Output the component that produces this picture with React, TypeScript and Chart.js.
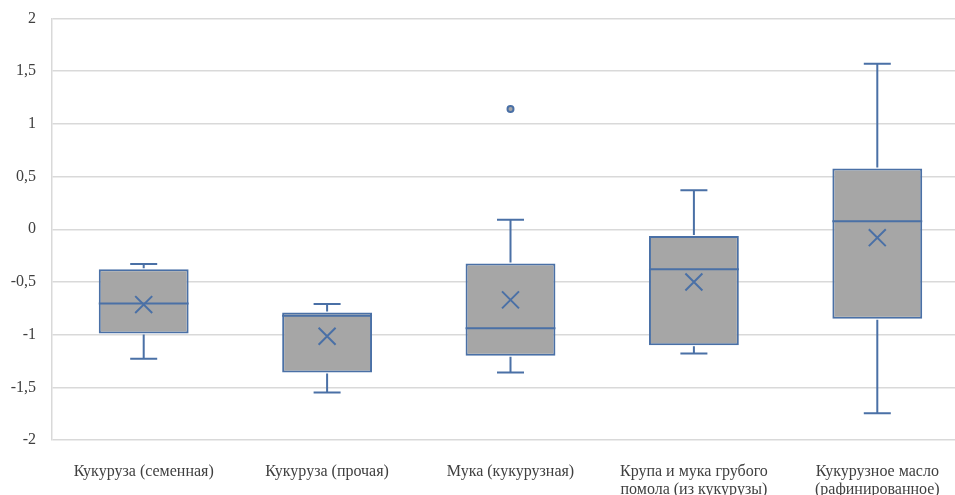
import React, { useEffect, useRef } from "react";
import { Chart, registerables } from "chart.js";

Chart.register(...registerables);

const categories: (string | string[])[] = [
  "Кукуруза (семенная)",
  "Кукуруза (прочая)",
  "Мука (кукурузная)",
  ["Крупа и мука грубого", "помола (из кукурузы)"],
  ["Кукурузное масло", "(рафинированное)"],
];
const whiskerMin = [-1.23, -1.55, -1.36, -1.18, -1.745];
const q1 = [-0.99, -1.36, -1.2, -1.1, -0.85];
const median = [-0.705, -0.82, -0.94, -0.38, 0.076];
const q3 = [-0.38, -0.79, -0.325, -0.064, 0.576];
const whiskerMax = [-0.33, -0.71, 0.09, 0.37, 1.57];
const mean = [-0.715, -1.015, -0.67, -0.5, -0.08];
const outliers: (number | null)[] = [null, null, 1.14, null, null];

const BLUE = "#4a70a6";
const GRAY = "#a6a6a6";
const TEXT = "#404040";
const GRID = "#d9d9d9";

const boxPlugin = {
  id: "boxWhiskers",
  afterDatasetsDraw(chart: any) {
    const ctx = chart.ctx;
    const xs = chart.scales.x;
    const ys = chart.scales.y;
    const meta = chart.getDatasetMeta(0);
    ctx.save();
    ctx.strokeStyle = BLUE;
    ctx.lineWidth = 2;
    const capHalf = 13.5;
    for (let i = 0; i < categories.length; i++) {
      const x = xs.getPixelForValue(i);
      const el = meta.data[i];
      const half = el.width / 2;
      const yMax = ys.getPixelForValue(whiskerMax[i]);
      const yQ3 = ys.getPixelForValue(q3[i]);
      const yQ1 = ys.getPixelForValue(q1[i]);
      const yMin = ys.getPixelForValue(whiskerMin[i]);
      const yMed = ys.getPixelForValue(median[i]);
      ctx.beginPath();
      ctx.moveTo(x, yQ3 - 1);
      ctx.lineTo(x, yMax);
      ctx.moveTo(x - capHalf, yMax);
      ctx.lineTo(x + capHalf, yMax);
      ctx.moveTo(x, yQ1 + 1);
      ctx.lineTo(x, yMin);
      ctx.moveTo(x - capHalf, yMin);
      ctx.lineTo(x + capHalf, yMin);
      ctx.moveTo(x - half, yMed);
      ctx.lineTo(x + half, yMed);
      ctx.stroke();
    }
    ctx.restore();
  },
};

export default function App() {
  const ref = useRef<HTMLCanvasElement | null>(null);
  useEffect(() => {
    if (!ref.current) return;
    const chart = new Chart(ref.current, {
      type: "bar",
      data: {
        labels: categories as any,
        datasets: [
          {
            type: "bar",
            data: q1.map((v, i) => [v, q3[i]]) as any,
            backgroundColor: GRAY,
            borderColor: BLUE,
            borderWidth: 2,
            borderSkipped: false,
            categoryPercentage: 1,
            barPercentage: 0.49,
            order: 2,
          } as any,
          {
            type: "line",
            data: mean,
            showLine: false,
            pointStyle: "crossRot",
            pointRadius: 12,
            pointBorderColor: BLUE,
            pointBorderWidth: 2,
            order: 1,
          } as any,
          {
            type: "line",
            data: outliers,
            showLine: false,
            pointStyle: "circle",
            pointRadius: 3,
            pointBackgroundColor: GRAY,
            pointBorderColor: BLUE,
            pointBorderWidth: 2,
            order: 0,
          } as any,
        ],
      },
      options: {
        responsive: false,
        animation: false,
        layout: { padding: { top: 18.5, left: 0, right: 0, bottom: 0 } },
        plugins: { legend: { display: false }, tooltip: { enabled: false } },
        scales: {
          x: {
            grid: { display: false },
            border: { display: false },
            afterFit(scale: any) {
              scale.height = 55;
            },
            ticks: {
              color: TEXT,
              font: { family: "'Liberation Serif', serif", size: 16, lineHeight: 1.1 },
              padding: 15,
              maxRotation: 0,
              autoSkip: false,
            },
          },
          y: {
            min: -2,
            max: 2,
            afterFit(scale: any) {
              scale.width = 52;
              scale.paddingTop = 0;
              scale.paddingBottom = 0;
            },
            grid: { color: GRID, lineWidth: 1.5, drawTicks: false },
            border: { display: true, color: GRID, width: 1.5 },
            ticks: {
              stepSize: 0.5,
              color: TEXT,
              padding: 16,
              font: { family: "'Liberation Serif', serif", size: 16 },
              callback: (v: any) => String(v).replace(".", ","),
            },
          },
        },
      },
      plugins: [boxPlugin],
    });
    return () => chart.destroy();
  }, []);
  return (
    <div style={{ position: "fixed", left: 0, top: 0, width: 955, height: 495, overflow: "hidden", background: "#fff" }}>
      <canvas ref={ref} width={983} height={495} />
    </div>
  );
}
